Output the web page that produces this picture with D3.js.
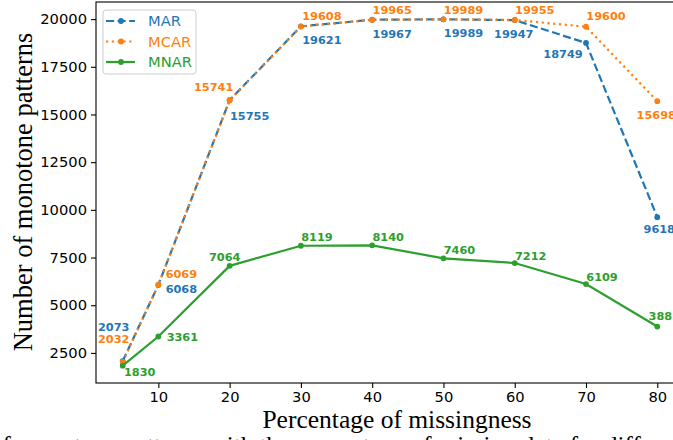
<!DOCTYPE html>
<html>
<head>
<meta charset="utf-8">
<script src="https://cdn.jsdelivr.net/npm/d3@7"></script>
<style>
  body {margin:0; background:#fff;}
  svg {display:block;}
  .tick text {font-family:"DejaVu Sans", sans-serif; font-size:14.7px; fill:#000;}
  .lbl {font-family:"DejaVu Sans", sans-serif; font-size:11.3px; font-weight:bold;}
  .serif {font-family:"Liberation Serif", "DejaVu Serif", serif; fill:#000;}
</style>
</head>
<body>
<svg width="673" height="440"></svg>
<script>
  var missing = [5, 10, 20, 30, 40, 50, 60, 70, 80];
  var mar  = [2073, 6068, 15755, 19621, 19967, 19989, 19947, 18749, 9618];
  var mcar = [2032, 6069, 15741, 19608, 19965, 19989, 19955, 19600, 15698];
  var mnar = [1830, 3361, 7064, 8119, 8140, 7460, 7212, 6109, 3881];
  var xTicks = [10, 20, 30, 40, 50, 60, 70, 80];
  var yTicks = [2500, 5000, 7500, 10000, 12500, 15000, 17500, 20000];

  // where each value label sits, relative to its point (text centre, px)
  var marOff  = [[-9,-34],[23,4],[20,16],[21,14],[20,14],[20,14],[-1,14],[-23,11],[2,12]];
  var mcarOff = [[-9,-23],[23,-11],[-16,-13],[21,-11],[20,-10],[20,-9],[20,-10],[20,-11],[-1,14]];
  var mnarOff = [[17,6],[24,0],[-5,-9],[16,-9],[16,-8],[16,-8],[16,-7],[16,-7],[7,-11]];

  (function() {
  var series = [
    {name:"MAR",  values:mar,  off:marOff,  color:"#1f77b4", dash:"8.1,3.5"},
    {name:"MCAR", values:mcar, off:mcarOff, color:"#ff7f0e", dash:"2.2,3.6"},
    {name:"MNAR", values:mnar, off:mnarOff, color:"#2ca02c", dash:null}
  ];

  var svg = d3.select("svg"),
      pl = 96, pr = 684, pt = 2, pb = 383;

  var x = d3.scaleLinear().domain([1.25, 83.75]).range([pl, pr]);
  var ymin = d3.min(mnar), ymax = d3.max(mar.concat(mcar));
  var pad = (ymax - ymin) * 0.05;
  var y = d3.scaleLinear().domain([ymin - pad, ymax + pad]).range([pb, pt]);

  svg.append("rect").attr("width", 673).attr("height", 440).attr("fill", "#fff");

  svg.append("g")
      .attr("transform", "translate(0," + pb + ")")
      .call(d3.axisBottom(x).tickValues(xTicks).tickSize(5).tickPadding(4).tickFormat(d3.format("d")))
      .call(function(g) { g.select(".domain").remove(); });

  svg.append("g")
      .attr("transform", "translate(" + pl + ",0)")
      .call(d3.axisLeft(y).tickValues(yTicks).tickSize(5).tickPadding(4).tickFormat(d3.format("d")))
      .call(function(g) { g.select(".domain").remove(); });

  svg.selectAll(".tick line").attr("stroke", "#000").attr("stroke-width", 1.1);

  // frame
  svg.append("rect")
      .attr("x", pl).attr("y", pt)
      .attr("width", pr - pl).attr("height", pb - pt)
      .attr("fill", "none").attr("stroke", "#000").attr("stroke-width", 1.1);

  var line = d3.line()
      .x(function(d, i) { return x(missing[i]); })
      .y(function(d) { return y(d); });

  series.forEach(function(s) {
    svg.append("path")
        .attr("d", line(s.values))
        .attr("fill", "none")
        .attr("stroke", s.color)
        .attr("stroke-width", 2.2)
        .attr("stroke-dasharray", s.dash);

    svg.append("g").selectAll("circle")
        .data(s.values)
        .enter().append("circle")
          .attr("cx", function(d, i) { return x(missing[i]); })
          .attr("cy", function(d) { return y(d); })
          .attr("r", 2.9)
          .attr("fill", s.color);
  });

  series.forEach(function(s) {
    svg.append("g").selectAll("text")
        .data(s.values)
        .enter().append("text")
          .attr("class", "lbl")
          .attr("x", function(d, i) { return x(missing[i]) + s.off[i][0]; })
          .attr("y", function(d, i) { return y(d) + s.off[i][1]; })
          .attr("text-anchor", "middle")
          .attr("dy", "0.36em")
          .attr("fill", s.color)
          .text(function(d) { return d; });
  });

  // legend
  var lg = svg.append("g");
  lg.append("rect")
      .attr("x", 103).attr("y", 10).attr("width", 93).attr("height", 64).attr("rx", 3)
      .attr("fill", "#fff").attr("fill-opacity", 0.8)
      .attr("stroke", "#cccccc").attr("stroke-width", 1);
  series.forEach(function(s, i) {
    var yy = 21 + i * 20.5;
    lg.append("line")
        .attr("x1", 106).attr("x2", 135).attr("y1", yy).attr("y2", yy)
        .attr("stroke", s.color).attr("stroke-width", 2.2)
        .attr("stroke-dasharray", s.dash);
    lg.append("circle").attr("cx", 121).attr("cy", yy).attr("r", 2.9).attr("fill", s.color);
    lg.append("text")
        .attr("x", 148).attr("y", yy).attr("dy", "0.36em")
        .style("font-family", "DejaVu Sans, sans-serif").style("font-size", "14.7px")
        .attr("fill", s.color)
        .text(s.name);
  });

  // axis titles
  svg.append("text")
      .attr("class", "serif")
      .attr("x", 397).attr("y", 428)
      .attr("text-anchor", "middle")
      .style("font-size", "25.5px")
      .text("Percentage of missingness");

  svg.append("text")
      .attr("class", "serif")
      .attr("transform", "translate(32,192) rotate(-90)")
      .attr("text-anchor", "middle")
      .style("font-size", "26.5px")
      .text("Number of monotone patterns");

  // top of the caption line, cut by the bottom edge
  svg.append("text")
      .attr("class", "serif")
      .attr("x", -10).attr("y", 454)
      .style("font-size", "25px")
      .text("of monotone patterns with the percentage of missing data for different mechanisms");
  })();
</script>
</body>
</html>
